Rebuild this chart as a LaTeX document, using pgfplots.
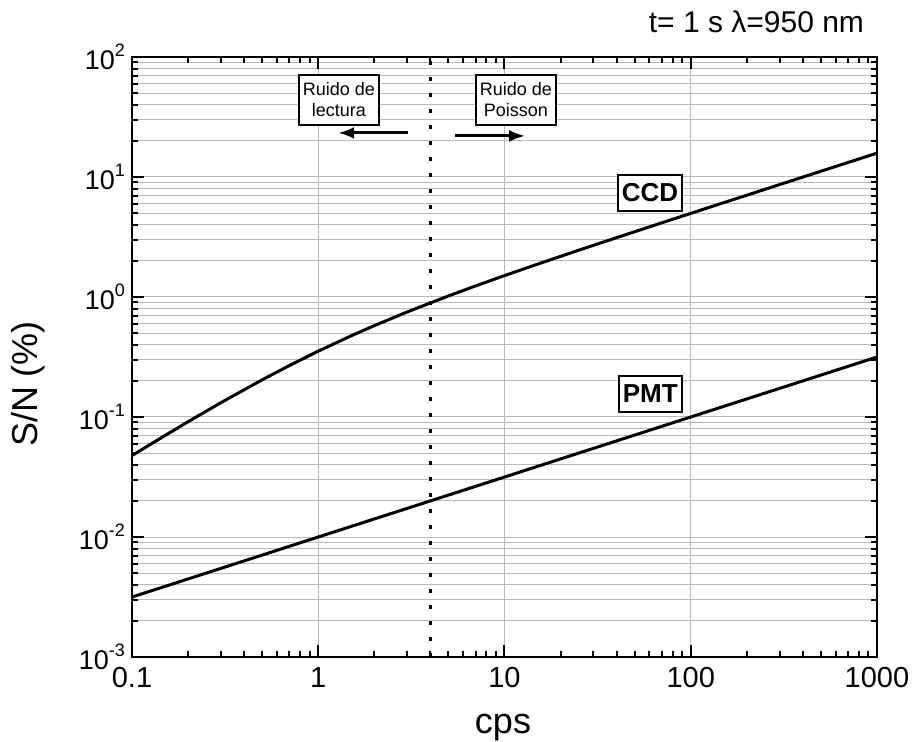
\documentclass[border=0pt]{standalone}
\usepackage{fontspec}
\setmainfont{Liberation Sans}
\usepackage{pgfplots}
\pgfplotsset{compat=1.18}
\usetikzlibrary{arrows.meta}
\newcommand{\sci}[1]{10\raisebox{6.8pt}{\fontsize{9}{10}\selectfont #1}}
\begin{document}
\begin{tikzpicture}
\useasboundingbox (-66pt,-42.5pt) rectangle (390.5pt,328.5pt);
\begin{axis}[
  xmode=log, ymode=log,
  scale only axis, width=372.5pt, height=300pt,
  xmin=0.1, xmax=1000, ymin=1e-3, ymax=1e2,
  axis line style={line width=1.2pt},
  tick style={line width=1pt, black},
  major tick length=6pt, minor tick length=3pt,
  tick align=inside,
  xtick={0.1,1,10,100,1000}, xticklabels={0.1,1,10,100,1000},
  ytick={1e-3,1e-2,1e-1,1,10,100},
  yticklabels={\sci{-3},\sci{-2},\sci{-1},\sci{0},\sci{1},\sci{2}},
  xmajorgrids, ymajorgrids, yminorgrids,
  major grid style={gray!55, line width=0.5pt},
  minor grid style={gray!55, line width=0.5pt},
  xticklabel style={font=\fontsize{14.5}{16}\selectfont, yshift=-1.5pt},
  yticklabel style={font=\fontsize{13.5}{15}\selectfont},
  xlabel={cps}, ylabel={S/N (\%)},
  xlabel style={font=\fontsize{18}{20}\selectfont, at={(axis description cs:0.498,-0.127)}, anchor=base},
  ylabel style={font=\fontsize{18}{20}\selectfont, at={(axis description cs:-0.14,0.455)}, anchor=center},
  clip=false,
]
% CCD
\addplot[black, line width=1.5pt] coordinates {
(0.1,0.0477)(0.15,0.0699)(0.2,0.0913)(0.3,0.1316)(0.5,0.2041)(0.7,0.2684)
(1,0.3536)(1.5,0.4743)(2,0.5774)(3,0.75)(5,1.0206)(7,1.2374)(10,1.5076)
(15,1.875)(20,2.1822)(30,2.6941)(50,3.5007)(70,4.1538)(100,4.9752)
(200,7.0535)(300,8.6461)(500,11.169)(700,13.220)(1000,15.803)};
% PMT
\addplot[black, line width=1.5pt] coordinates {
(0.1,0.00316)(1,0.01)(10,0.0316)(100,0.1)(1000,0.316)};
% boundary
\addplot[black, line width=1.5pt, dash pattern=on 2pt off 6pt] coordinates {(4,1e-3)(4,1e2)};
\node[draw, line width=0.8pt, fill=white, align=center, font=\fontsize{9}{10.5}\selectfont, inner xsep=2pt, inner ysep=4pt] at (axis cs:1.29,43.8) {Ruido de\\lectura};
\node[draw, line width=0.8pt, fill=white, align=center, font=\fontsize{9}{10.5}\selectfont, inner xsep=2pt, inner ysep=4pt] at (axis cs:11.5,43.8) {Ruido de\\Poisson};
\draw[line width=1.5pt, -{Latex[length=8pt,width=6pt]}] (axis cs:3.03,23.3) -- (axis cs:1.28,23.3);
\draw[line width=1.5pt, -{Latex[length=8pt,width=6pt]}] (axis cs:5.42,22) -- (axis cs:12.9,22);
\node[draw, line width=1pt, fill=white, font=\fontsize{13}{15}\selectfont\bfseries, inner xsep=2pt, inner ysep=4.5pt] at (axis cs:60.4,7.36) {CCD};
\node[draw, line width=1pt, fill=white, font=\fontsize{13}{15}\selectfont\bfseries, inner xsep=2pt, inner ysep=4.5pt] at (axis cs:60.6,0.1555) {PMT};
\node[anchor=east, font=\fontsize{15}{17}\selectfont] at (rel axis cs:0.992,1.058) {t= 1 s λ=950 nm};
\end{axis}
\end{tikzpicture}
\end{document}
